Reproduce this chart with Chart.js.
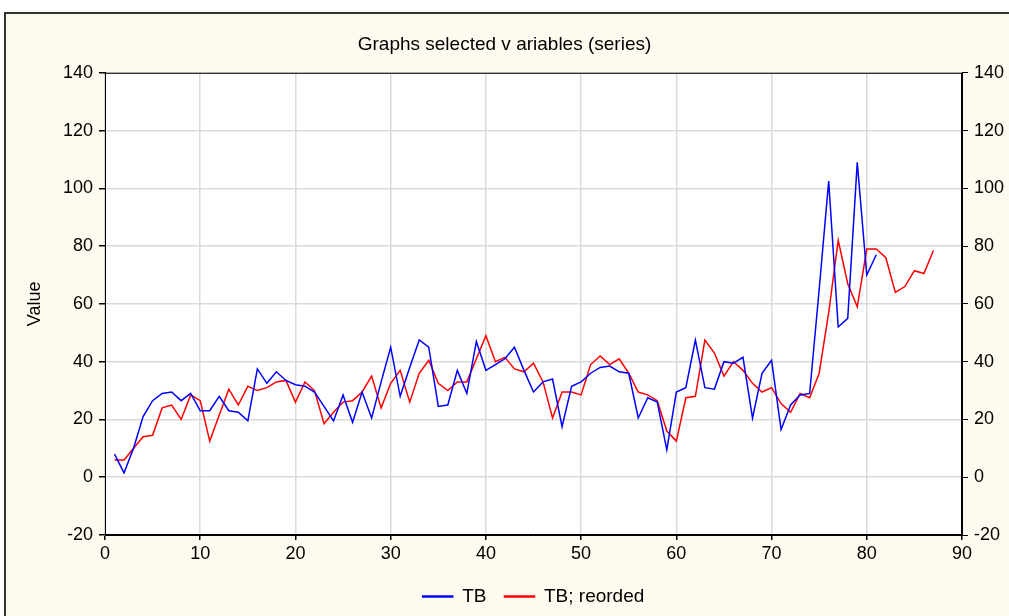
<!DOCTYPE html>
<html>
<head>
<meta charset="utf-8">
<script src="https://cdn.jsdelivr.net/npm/chart.js@4.4.1/dist/chart.umd.min.js"></script>
<style>
    html, body { margin: 0; padding: 0; background: #ffffff; }
    #wrap { width: 1009px; height: 616px; position: relative; }
</style>
</head>
<body>
<div id="wrap"><canvas id="series-chart"></canvas></div>
<script>
// Chart data
const chartTitle = 'Graphs selected v ariables (series)';
const seriesNames = ['TB', 'TB; reorded'];
const seriesColors = ['#0000ff', '#ff0000'];
const yTicks = [-20, 0, 20, 40, 60, 80, 100, 120, 140];
const xTicks = [0, 10, 20, 30, 40, 50, 60, 70, 80, 90];

const tbValues = [
    8, 1.5, 10, 21, 26.5, 29, 29.5, 26.5, 29, 23,
    23, 28, 23, 22.5, 19.5, 37.5, 32.5, 36.5, 33.5, 32,
    31.5, 29.5, 24.5, 19.5, 28.5, 19, 29.5, 20.5, 33, 45,
    28, 38, 47.5, 45, 24.5, 25, 37, 29, 47, 37,
    39, 41, 45, 37, 29.5, 33, 34, 17.5, 31.5, 33,
    36, 38, 38.5, 36.5, 36, 20.5, 27.5, 26, 9.5, 29.5,
    31, 47.5, 31, 30.5, 40, 39.5, 41.5, 20.5, 36, 40.5,
    16.5, 25, 28.5, 29, 65, 102.5, 52, 55, 109, 70,
    77
];

const tbReordedValues = [
    6, 6, 10, 14, 14.5, 24, 25, 20, 28.5, 26.5,
    12.5, 21.5, 30.5, 25, 31.5, 30, 31, 33, 33.5, 26,
    33, 30, 18.5, 22.5, 26, 26.5, 29.5, 35, 24, 32.5,
    37, 26, 36, 40.5, 32.5, 30, 33, 33, 41, 49,
    40, 41.5, 37.5, 36.5, 39.5, 33, 20.5, 29.5, 29.5, 28.5,
    39, 42, 39, 41, 36, 29.5, 28.5, 26.5, 16, 12.5,
    27.5, 28, 47.5, 43, 35, 40, 37, 32.5, 29.5, 31,
    25.5, 22.5, 29, 27.5, 36, 57, 82, 67, 59, 79,
    79, 76, 64, 66, 71.5, 70.5, 78.5
];

const FONT = 'Liberation Sans, Arial, sans-serif';

const SeriesChart = {
    chart: null,

    /**
     * Turn a value list into {x, y} points, x counting from 1
     */
    toPoints(values) {
        return values.map((v, i) => ({ x: i + 1, y: v }));
    },

    /**
     * Cream panel, frame and white plot area
     */
    panelPlugin: {
        id: 'panel',
        beforeDraw(chart) {
            const { ctx, chartArea } = chart;
            ctx.save();
            ctx.fillStyle = '#ffffff';
            ctx.fillRect(0, 0, chart.width, chart.height);
            ctx.fillStyle = '#fffaf0';
            ctx.fillRect(5, 13, chart.width, chart.height);
            ctx.strokeStyle = '#333333';
            ctx.lineWidth = 2;
            ctx.strokeRect(5, 13, chart.width + 10, chart.height + 10);
            ctx.fillStyle = '#ffffff';
            ctx.fillRect(chartArea.left, chartArea.top,
                chartArea.right - chartArea.left, chartArea.bottom - chartArea.top);
            ctx.restore();
        },
        afterDatasetsDraw(chart) {
            const { ctx, chartArea } = chart;
            ctx.save();
            ctx.strokeStyle = '#000000';
            ctx.lineWidth = 1;
            ctx.strokeRect(chartArea.left + 0.5, chartArea.top + 0.5,
                chartArea.right - chartArea.left - 1, chartArea.bottom - chartArea.top - 1);
            ctx.restore();
        }
    },

    /**
     * Build the chart
     */
    render() {
        const ctx = document.getElementById('series-chart');
        const tickFont = { family: FONT, size: 18 };

        const datasets = [tbValues, tbReordedValues].map((values, i) => ({
            label: seriesNames[i],
            data: this.toPoints(values),
            borderColor: seriesColors[i],
            backgroundColor: seriesColors[i],
            borderWidth: 1.5,
            pointRadius: 0,
            tension: 0
        }));

        this.chart = new Chart(ctx, {
            type: 'line',
            data: { datasets },
            plugins: [this.panelPlugin],
            options: {
                responsive: true,
                maintainAspectRatio: false,
                animation: false,
                layout: { padding: { left: 0, right: 0, top: 0, bottom: 0 } },
                plugins: {
                    title: {
                        display: true,
                        text: chartTitle,
                        color: '#000000',
                        font: { family: FONT, size: 19, weight: 'normal' },
                        padding: { top: 33, bottom: 17 }
                    },
                    legend: {
                        position: 'bottom',
                        fullSize: false,
                        labels: {
                            color: '#000000',
                            font: { family: FONT, size: 19 },
                            boxWidth: 30,
                            boxHeight: 1,
                            padding: 18
                        }
                    },
                    tooltip: { enabled: false }
                },
                scales: {
                    x: {
                        type: 'linear',
                        min: 0,
                        max: 90,
                        afterBuildTicks: (scale) => { scale.ticks = xTicks.map(v => ({ value: v })); },
                        afterFit: (scale) => { scale.height = 34; },
                        ticks: { color: '#000000', font: tickFont, padding: 3 },
                        grid: { color: '#dadada', lineWidth: 1.5, tickColor: '#000000', tickLength: 5 },
                        border: { color: '#000000' }
                    },
                    y: {
                        position: 'left',
                        min: -20,
                        max: 140,
                        afterBuildTicks: (scale) => { scale.ticks = yTicks.map(v => ({ value: v })); },
                        afterFit: (scale) => { scale.width = 105; },
                        title: {
                            display: true,
                            text: 'Value',
                            color: '#000000',
                            font: { family: FONT, size: 18 },
                            padding: { top: 24, bottom: 0 }
                        },
                        ticks: { color: '#000000', font: tickFont, padding: 6 },
                        grid: { color: '#dadada', lineWidth: 1.5, tickColor: '#000000', tickLength: 6 },
                        border: { color: '#000000' }
                    },
                    y2: {
                        position: 'right',
                        min: -20,
                        max: 140,
                        afterBuildTicks: (scale) => { scale.ticks = yTicks.map(v => ({ value: v })); },
                        afterFit: (scale) => { scale.width = 47; },
                        ticks: { color: '#000000', font: tickFont, padding: 6 },
                        grid: { drawOnChartArea: false, tickColor: '#000000', tickLength: 6 },
                        border: { color: '#000000' }
                    }
                }
            }
        });
    }
};

SeriesChart.render();
</script>
</body>
</html>
